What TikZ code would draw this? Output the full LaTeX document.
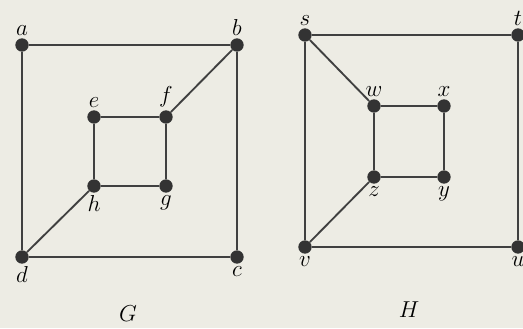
\documentclass[tikz,border=0pt]{standalone}
\usepackage{tikz}

\begin{document}
\begin{tikzpicture}[
      x=0.75pt, y=-0.75pt,
      vtx/.style={circle, fill=black!80, inner sep=0pt, minimum size=10pt},
      lbl/.style={font=\fontsize{18}{20}\selectfont, inner sep=0pt, label distance=2pt},
      edge/.style={draw=black!75, line width=1.4pt}
    ]
      \fill[black!3!yellow!4!white!92!black] (0,0) rectangle (523,328);
      \useasboundingbox (0,0) rectangle (523,328);
      % graph G
      \node[vtx, label={[lbl]above:$a$}] (a) at (22,45) {};
      \node[vtx, label={[lbl]above:$b$}] (b) at (237,45) {};
      \node[vtx, label={[lbl]below:$c$}] (c) at (237,257) {};
      \node[vtx, label={[lbl]below:$d$}] (d) at (22,257) {};
      \node[vtx, label={[lbl]above:$e$}] (e) at (94,117) {};
      \node[vtx, label={[lbl]above:$f$}] (f) at (166,117) {};
      \node[vtx, label={[lbl]below:$g$}] (g) at (166,186) {};
      \node[vtx, label={[lbl]below:$h$}] (h) at (94,186) {};
      \node[lbl] (G) at (128,314) {$G$};
      \draw[edge] (a) -- (b) -- (c) -- (d) -- (a);
      \draw[edge] (e) -- (f) -- (g) -- (h) -- (e);
      \draw[edge] (b) -- (f);
      \draw[edge] (d) -- (h);
      % graph H
      \node[vtx, label={[lbl]above:$s$}] (s) at (305,35) {};
      \node[vtx, label={[lbl]above:$t$}] (t) at (518,35) {};
      \node[vtx, label={[lbl]below:$u$}] (u) at (518,247) {};
      \node[vtx, label={[lbl]below:$v$}] (v) at (305,247) {};
      \node[vtx, label={[lbl]above:$w$}] (w) at (374,106) {};
      \node[vtx, label={[lbl]above:$x$}] (x) at (444,106) {};
      \node[vtx, label={[lbl]below:$y$}] (y) at (444,177) {};
      \node[vtx, label={[lbl]below:$z$}] (z) at (374,177) {};
      \node[lbl] (H) at (409,310) {$H$};
      \draw[edge] (s) -- (t) -- (u) -- (v) -- (s);
      \draw[edge] (w) -- (x) -- (y) -- (z) -- (w);
      \draw[edge] (s) -- (w);
      \draw[edge] (v) -- (z);
    \end{tikzpicture}
\end{document}
